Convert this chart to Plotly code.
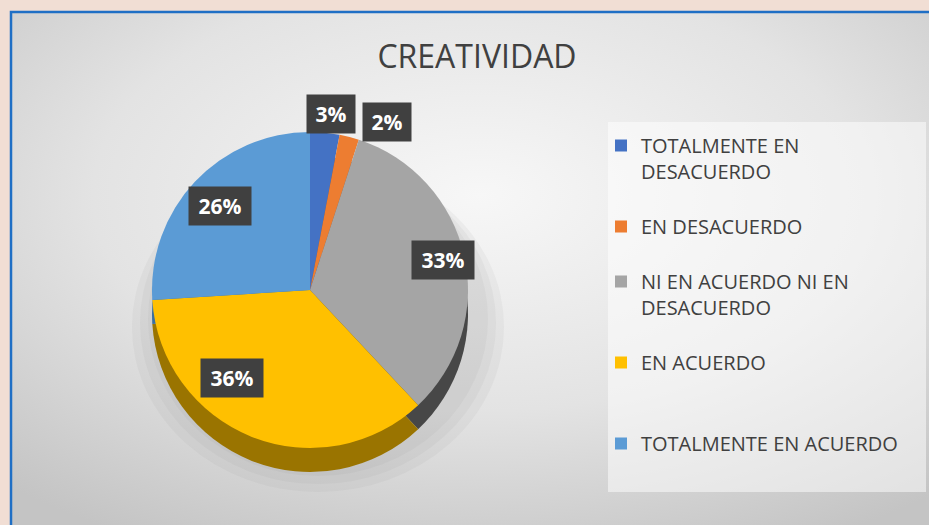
import base64

import numpy as np
import plotly.graph_objects as go

# chart data
title_text = "CREATIVIDAD"
categories = [
    "TOTALMENTE EN DESACUERDO",
    "EN DESACUERDO",
    "NI EN ACUERDO NI EN DESACUERDO",
    "EN ACUERDO",
    "TOTALMENTE EN ACUERDO",
]
# legend wording (line breaks as in the original legend, blank lines pad the spacing)
legend_labels = [
    "TOTALMENTE EN<br>DESACUERDO<br> ",
    "EN DESACUERDO<br> ",
    "NI EN ACUERDO NI EN<br>DESACUERDO<br> ",
    "EN ACUERDO<br> <br> ",
    "TOTALMENTE EN ACUERDO",
]
percentages = [3, 2, 33, 36, 26]

# styles
top_colors = ["#4472C4", "#ED7D31", "#A5A5A5", "#FFC000", "#5B9BD5"]
side_colors = ["#2F5597", "#A84F16", "#474747", "#9A7400", "#3A6E9E"]
label_radius = [1.12, 1.10, 0.86, 0.60, 0.78]
label_xshift = [4, 34, 0, -43, 0]

W, H = 929, 525
CX, CY, R, DEPTH = 310, 290, 158, 24
FONT = "Open Sans"


def pie_domain(cy):
    return dict(
        x=[(CX - R) / W, (CX + R) / W],
        y=[(H - cy - R) / H, (H - cy + R) / H],
    )


fig = go.Figure()

# side wall of the 3D-looking pie
fig.add_trace(
    go.Pie(
        labels=legend_labels,
        values=percentages,
        sort=False,
        direction="clockwise",
        rotation=0,
        marker=dict(colors=side_colors, line=dict(width=0)),
        textinfo="none",
        hoverinfo="skip",
        showlegend=False,
        domain=pie_domain(CY + DEPTH),
    )
)
fig.add_trace(
    go.Pie(
        labels=legend_labels,
        values=percentages,
        customdata=categories,
        sort=False,
        direction="clockwise",
        rotation=0,
        marker=dict(colors=top_colors, line=dict(width=0)),
        textinfo="none",
        hovertemplate="%{customdata}: %{value}%<extra></extra>",
        domain=pie_domain(CY),
    )
)

# data labels in dark boxes, placed from the slice mid-angles
vals = np.array(percentages, dtype=float)
mid = 2 * np.pi * (np.cumsum(vals) - vals / 2) / vals.sum()
for i, v in enumerate(percentages):
    px = CX + label_radius[i] * R * np.sin(mid[i]) + label_xshift[i]
    py = CY - label_radius[i] * R * np.cos(mid[i])
    text = f"{v}%"
    fig.add_annotation(
        x=px / W,
        y=1 - py / H,
        xref="paper",
        yref="paper",
        xanchor="center",
        yanchor="middle",
        text=f"<b>{text}</b>",
        showarrow=False,
        font=dict(family=FONT, size=21, color="white"),
        bgcolor="#404040",
        borderpad=5,
        width=10 + 14 * len(text),
    )

svg = (
    '<svg xmlns="http://www.w3.org/2000/svg" width="920" height="520">'
    '<defs><radialGradient id="g" cx="50%" cy="35%" r="75%">'
    '<stop offset="0" stop-color="#F7F7F7"/>'
    '<stop offset="0.55" stop-color="#E3E3E3"/>'
    '<stop offset="1" stop-color="#C4C4C4"/>'
    "</radialGradient></defs>"
    '<rect width="100%" height="100%" fill="url(#g)"/></svg>'
)
fig.add_layout_image(
    source="data:image/svg+xml;base64," + base64.b64encode(svg.encode()).decode(),
    xref="paper",
    yref="paper",
    x=11 / W,
    y=1 - 12 / H,
    sizex=1.02 - 11 / W,
    sizey=1.02 - 12 / H,
    xanchor="left",
    yanchor="top",
    sizing="stretch",
    layer="below",
)

# soft shadow under the pie
for pad in [26, 18, 10]:
    fig.add_shape(
        type="circle",
        xref="paper",
        yref="paper",
        x0=(CX - R - pad + 6) / W,
        x1=(CX + R + pad + 10) / W,
        y0=(H - CY - DEPTH - R - pad + 6) / H,
        y1=(H - CY + R - 30) / H,
        fillcolor="rgba(130,130,130,0.07)",
        line=dict(width=0),
        layer="below",
    )

# legend panel and outer frame
fig.add_shape(
    type="rect",
    xref="paper",
    yref="paper",
    x0=608 / W,
    x1=926 / W,
    y0=1 - 492 / H,
    y1=1 - 122 / H,
    fillcolor="rgba(255,255,255,0.5)",
    line=dict(width=0),
    layer="below",
)
fig.add_shape(
    type="rect",
    xref="paper",
    yref="paper",
    x0=11 / W,
    x1=1.02,
    y0=-0.02,
    y1=1 - 12 / H,
    line=dict(color="#1F6FC5", width=2.5),
    layer="above",
)

fig.update_layout(
    width=W,
    height=H,
    margin=dict(l=0, r=0, t=0, b=0),
    paper_bgcolor="#F1DED4",
    plot_bgcolor="rgba(0,0,0,0)",
    title=dict(
        text=title_text,
        x=477 / W,
        xanchor="center",
        y=1 - 57 / H,
        yanchor="middle",
        font=dict(family=FONT, size=32, color="#404040"),
    ),
    legend=dict(
        x=601 / W,
        xanchor="left",
        y=1 - 126 / H,
        yanchor="top",
        valign="top",
        bgcolor="rgba(0,0,0,0)",
        font=dict(family=FONT, size=20, color="#404040"),
    ),
)

fig.write_html(
    "out.html",
    config={"displayModeBar": False},
    post_script="document.body.style.margin='0';document.body.style.background='#F1DED4';",
)
